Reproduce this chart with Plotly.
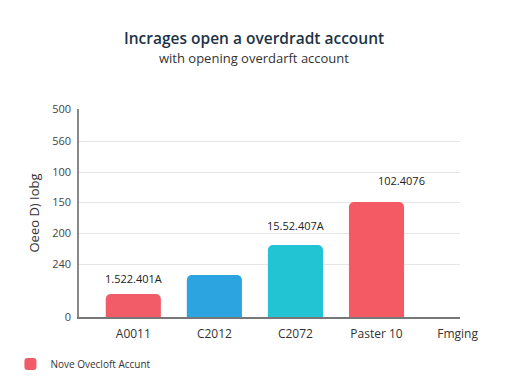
import plotly.graph_objects as go

categories = ["A0011", "C2012", "C2072", "Paster 10", "Fmging"]
bar_categories = ["A0011", "C2012", "C2072", "Paster 10"]
bar_values = [23, 42, 72, 115]
bar_colors = ["#F25C68", "#2BA4E0", "#22C4D4", "#F45A64"]
value_label_cats = ["A0011", "C2072", "Paster 10"]
value_label_vals = [23, 72, 115]
value_labels = ["1.522.401A", "15.52.407A", "102.4076"]
tick_vals = [0, 53, 84, 115, 145, 176, 208]
tick_text = ["0", "240", "200", "150", "100", "560", "500"]

fig = go.Figure()
fig.add_trace(go.Bar(
    x=bar_categories, y=bar_values, width=0.68,
    marker=dict(color=bar_colors, cornerradius=5, line=dict(width=0)),
    name="Nove Ovecloft Accunt", showlegend=True,
))

shifts = [0, 0, 25]
yshifts = [16, 20, 22]
for c, v, t, xs, ys in zip(value_label_cats, value_label_vals, value_labels, shifts, yshifts):
    fig.add_annotation(x=c, y=v, text=t, showarrow=False, xshift=xs, yshift=ys,
                       font=dict(size=11, color="#222", family="Open Sans"))

fig.add_annotation(x=0.46, y=1.341, xref="paper", yref="paper", yanchor="middle",
                   text="Incrages open a overdradt account", showarrow=False, borderpad=0,
                   font=dict(size=15.5, color="#1d3346", family="Open Sans", weight=600))
fig.add_annotation(x=0.46, y=1.245, xref="paper", yref="paper", yanchor="middle",
                   text="with opening overdarft account", showarrow=False, borderpad=0,
                   font=dict(size=13, color="#333", family="Open Sans"))

fig.update_layout(
    width=512, height=384,
    margin=dict(l=71, r=60, t=101, b=75, autoexpand=False),
    paper_bgcolor="white", plot_bgcolor="white",
    font=dict(family="Open Sans", color="#444"),
    bargap=0.3,
    xaxis=dict(categoryorder="array", categoryarray=categories, range=[-0.67, 4.03],
               showline=True, linecolor="#777", linewidth=1.5, ticks="",
               ticklabelstandoff=5,
               tickfont=dict(size=12, color="#333"), showgrid=False),
    yaxis=dict(range=[0, 208], tickvals=tick_vals, ticktext=tick_text,
               showline=True, linecolor="#888", linewidth=1.5,
               gridcolor="#e6e6e6", gridwidth=1, zeroline=False,
               ticklabelstandoff=4,
               tickfont=dict(size=11, color="#444"), ticklen=0,
               title=dict(text="Oeeo D) Iobg", font=dict(size=13, color="#333"), standoff=10)),
    legend=dict(orientation="h", x=-0.18, y=-0.226, xanchor="left", yanchor="middle",
                font=dict(size=10, color="#333"), itemwidth=30),
)

fig.write_html("out.html")
